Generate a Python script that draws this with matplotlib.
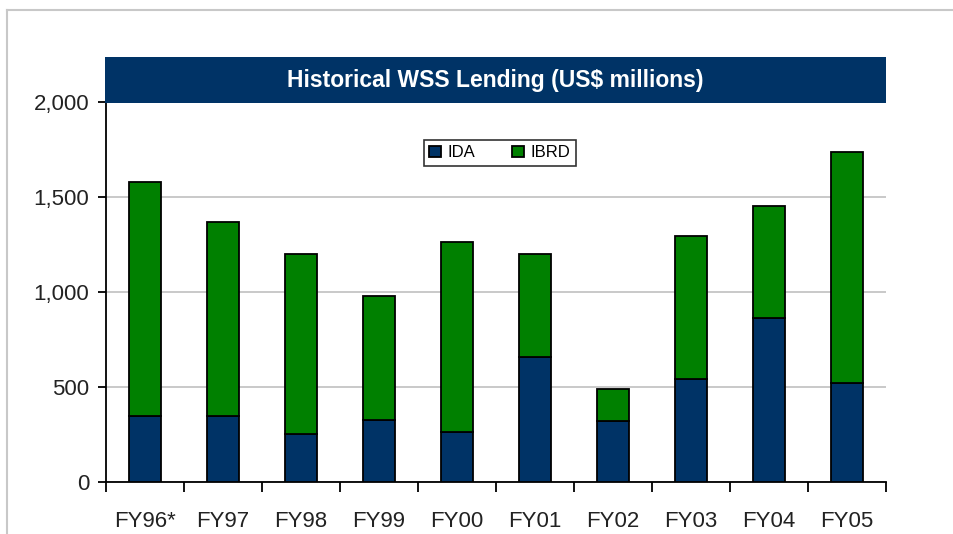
import matplotlib
matplotlib.use('Agg')
import matplotlib.pyplot as plt
import numpy as np
from matplotlib.patches import Rectangle
from matplotlib.lines import Line2D
from matplotlib.ticker import FuncFormatter, FixedLocator

# data (US$ millions)
years = ["FY96*", "FY97", "FY98", "FY99", "FY00", "FY01", "FY02", "FY03", "FY04", "FY05"]
ida = [347, 347, 253, 326, 263, 660, 323, 542, 861, 523]
total = [1577, 1368, 1200, 979, 1263, 1200, 491, 1295, 1454, 1737]
ibrd = [t - i for t, i in zip(total, ida)]

NAVY = '#003366'
GREEN = '#008000'

plt.rcParams['font.family'] = ['Liberation Sans', 'DejaVu Sans']

fig = plt.figure(figsize=(9.54, 5.34), dpi=100)
W, H = 954, 534
ax = fig.add_axes([106 / W, 52 / H, 780 / W, 380 / H])

x = np.arange(len(years))
ax.bar(x, ida, width=0.42, color=NAVY, edgecolor='black', linewidth=1.3, label='IDA', zorder=3)
ax.bar(x, ibrd, width=0.42, bottom=ida, color=GREEN, edgecolor='black', linewidth=1.3,
       label='IBRD', zorder=3)

ax.set_xlim(-0.5, len(years) - 0.5)
ax.set_ylim(0, 2000)
ax.set_yticks([0, 500, 1000, 1500, 2000])
ax.yaxis.set_major_formatter(FuncFormatter(lambda v, p: f"{int(v):,}"))
ax.grid(axis='y', color='#c0c0c0', linewidth=1.2, zorder=0)
ax.set_axisbelow(True)

# category labels at centres, tick marks at boundaries
ax.set_xticks(x)
ax.set_xticklabels(years, fontsize=16, color='#222222')
ax.tick_params(axis='x', which='major', length=0, pad=21)
ax.xaxis.set_minor_locator(FixedLocator(np.arange(-0.5, len(years), 1.0)))
ax.tick_params(axis='x', which='minor', length=7, width=1.3, direction='out', color='black')
ax.tick_params(axis='y', length=6, width=1.3, direction='out', labelsize=16,
               labelcolor='#222222', pad=6)

for s in ['top', 'right']:
    ax.spines[s].set_visible(False)
for s in ['left', 'bottom']:
    ax.spines[s].set_linewidth(1.3)
    ax.spines[s].set_color('black')

leg = ax.legend(loc='center', bbox_to_anchor=(0.505, 0.866), ncol=2, fontsize=12,
                frameon=True, fancybox=False, edgecolor='black', handlelength=0.7,
                handleheight=0.7, columnspacing=2.2, handletextpad=0.4,
                borderpad=0.35)
leg.get_frame().set_linewidth(1.2)

# title banner
fig.patches.append(Rectangle((105 / W, 1 - 103 / H), 781 / W, 46 / H,
                             transform=fig.transFigure, facecolor=NAVY,
                             edgecolor='none', zorder=5))
fig.text((105 + 886) / 2 / W, 1 - 81 / H, "Historical WSS Lending (US$ millions)",
         color='white', fontsize=16.5, fontweight='bold', ha='center', va='center', zorder=6)

# outer chart frame
fig.lines.append(Line2D([7 / W, 7 / W], [0, 1 - 10 / H], transform=fig.transFigure,
                        color='#c8c8c8', linewidth=1.5))
fig.lines.append(Line2D([7 / W, 1], [1 - 10 / H, 1 - 10 / H], transform=fig.transFigure,
                        color='#c8c8c8', linewidth=1.5))

fig.savefig('out.png', dpi=100)
